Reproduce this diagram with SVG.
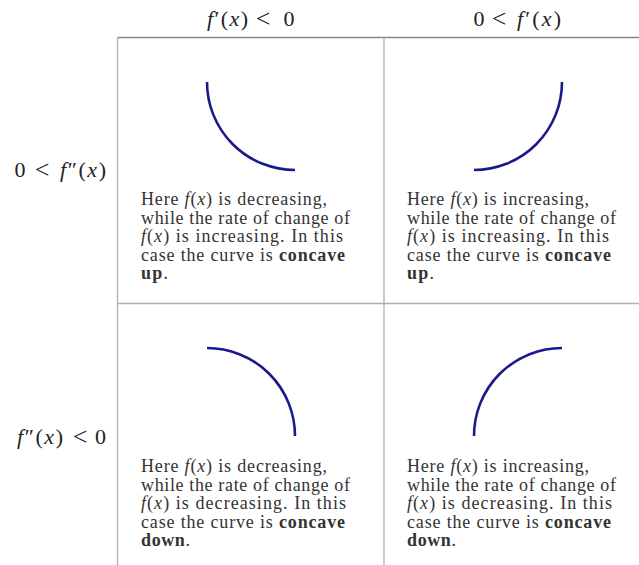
<svg xmlns="http://www.w3.org/2000/svg" width="639" height="565" viewBox="0 0 639 565">
<style>
.grid{stroke:#b0b0b0;stroke-width:1.3;fill:none}
.top{stroke:#888;stroke-width:1.3}
.curve{stroke:#1a1a8a;stroke-width:2.6;fill:none}
.t{font-family:"Liberation Serif","DejaVu Serif",serif;font-size:18px;fill:#333}
.h{font-family:"Liberation Serif","DejaVu Serif",serif;font-size:22px;fill:#222}
.m{text-anchor:middle}
.lt{font-size:26px}
.i{font-style:italic}
.b{font-weight:bold}
</style>
<rect width="639" height="565" fill="#fff"/>
<g id="grid">
<line class="top" x1="117.5" y1="37.5" x2="639" y2="37.5"/>
<line class="grid" x1="117.5" y1="37.5" x2="117.5" y2="565"/>
<line class="grid" x1="384" y1="37.5" x2="384" y2="565"/>
<line class="grid" x1="117.5" y1="303.5" x2="639" y2="303.5"/>
</g>
<g id="header-col1">
<text class="h" x="207" y="26" textLength="41" lengthAdjust="spacing"><tspan class="i">f</tspan>′(<tspan class="i">x</tspan>)</text>
<text class="h m lt" x="263" y="27">&lt;</text>
<text class="h m" x="289" y="26">0</text>
</g>
<g id="header-col2">
<text class="h m" x="479" y="26">0</text>
<text class="h m lt" x="499" y="27">&lt;</text>
<text class="h" x="517" y="26" textLength="44" lengthAdjust="spacing"><tspan class="i">f</tspan>′(<tspan class="i">x</tspan>)</text>
</g>
<g id="header-row1">
<text class="h m" x="20" y="177">0</text>
<text class="h m lt" x="42" y="178">&lt;</text>
<text class="h" x="60" y="177" textLength="46" lengthAdjust="spacing"><tspan class="i">f</tspan>″(<tspan class="i">x</tspan>)</text>
</g>
<g id="header-row2">
<text class="h" x="17" y="444" textLength="46" lengthAdjust="spacing"><tspan class="i">f</tspan>″(<tspan class="i">x</tspan>)</text>
<text class="h m lt" x="80" y="445">&lt;</text>
<text class="h m" x="100.5" y="444">0</text>
</g>
<g id="cell-tl">
<path class="curve" d="M207,82 A88,88 0 0 0 295,170"/>
<text class="t" x="141" y="205" textLength="186" lengthAdjust="spacing">Here <tspan class="i">f</tspan>(<tspan class="i">x</tspan>) is decreasing,</text>
<text class="t" x="141" y="223.5" textLength="209" lengthAdjust="spacing">while the rate of change of</text>
<text class="t" x="141" y="242" textLength="202" lengthAdjust="spacing"><tspan class="i">f</tspan>(<tspan class="i">x</tspan>) is increasing.  In this</text>
<text class="t" x="141" y="260.5" textLength="204" lengthAdjust="spacing">case the curve is <tspan class="b">concave</tspan></text>
<text class="t" x="141" y="279" textLength="27" lengthAdjust="spacing"><tspan class="b">up</tspan>.</text>
</g>
<g id="cell-tr">
<path class="curve" d="M474,170 A88,88 0 0 0 562,82"/>
<text class="t" x="407" y="205" textLength="182" lengthAdjust="spacing">Here <tspan class="i">f</tspan>(<tspan class="i">x</tspan>) is increasing,</text>
<text class="t" x="407" y="223.5" textLength="209" lengthAdjust="spacing">while the rate of change of</text>
<text class="t" x="407" y="242" textLength="202" lengthAdjust="spacing"><tspan class="i">f</tspan>(<tspan class="i">x</tspan>) is increasing.  In this</text>
<text class="t" x="407" y="260.5" textLength="204" lengthAdjust="spacing">case the curve is <tspan class="b">concave</tspan></text>
<text class="t" x="407" y="279" textLength="27" lengthAdjust="spacing"><tspan class="b">up</tspan>.</text>
</g>
<g id="cell-bl">
<path class="curve" d="M207,348 A88,88 0 0 1 295,436"/>
<text class="t" x="141" y="472" textLength="186" lengthAdjust="spacing">Here <tspan class="i">f</tspan>(<tspan class="i">x</tspan>) is decreasing,</text>
<text class="t" x="141" y="490.5" textLength="209" lengthAdjust="spacing">while the rate of change of</text>
<text class="t" x="141" y="509" textLength="205" lengthAdjust="spacing"><tspan class="i">f</tspan>(<tspan class="i">x</tspan>) is decreasing.  In this</text>
<text class="t" x="141" y="527.5" textLength="204" lengthAdjust="spacing">case the curve is <tspan class="b">concave</tspan></text>
<text class="t" x="141" y="546" textLength="49" lengthAdjust="spacing"><tspan class="b">down</tspan>.</text>
</g>
<g id="cell-br">
<path class="curve" d="M474,436 A88,88 0 0 1 562,348"/>
<text class="t" x="407" y="472" textLength="182" lengthAdjust="spacing">Here <tspan class="i">f</tspan>(<tspan class="i">x</tspan>) is increasing,</text>
<text class="t" x="407" y="490.5" textLength="209" lengthAdjust="spacing">while the rate of change of</text>
<text class="t" x="407" y="509" textLength="205" lengthAdjust="spacing"><tspan class="i">f</tspan>(<tspan class="i">x</tspan>) is decreasing.  In this</text>
<text class="t" x="407" y="527.5" textLength="204" lengthAdjust="spacing">case the curve is <tspan class="b">concave</tspan></text>
<text class="t" x="407" y="546" textLength="49" lengthAdjust="spacing"><tspan class="b">down</tspan>.</text>
</g>
</svg>
